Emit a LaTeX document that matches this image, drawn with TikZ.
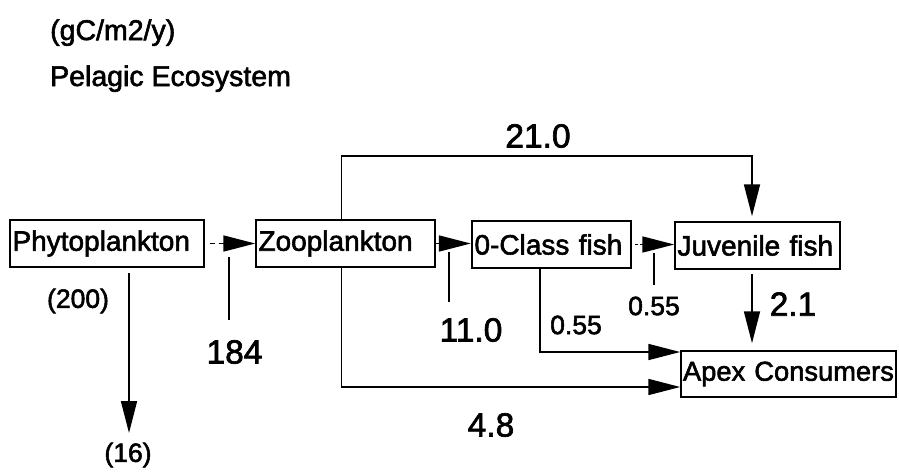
\documentclass[tikz,border=0pt]{standalone}
\usepackage{fontspec}
\setmainfont{Liberation Sans}[RawFeature={embolden=2}]
\usetikzlibrary{arrows.meta}
\begin{document}
\begin{tikzpicture}[x=1pt,y=-1pt,
  box/.style={draw, line width=1.5pt, inner xsep=2.5pt, inner ysep=0pt, minimum height=47pt, align=left, font=\fontsize{28}{30}\selectfont},
  flow/.style={line width=1.7pt, -{Triangle[length=32pt,width=16pt]}},
  plain/.style={line width=1.7pt},
  big/.style={font=\fontsize{33.5}{36}\selectfont, inner sep=0pt},
  small/.style={font=\fontsize{26.5}{30}\selectfont, inner sep=0pt},
  head/.style={font=\fontsize{28.5}{30}\selectfont, inner sep=0pt, anchor=base west}]
\useasboundingbox (0,0) rectangle (899,471);
\fill[white] (0,0) rectangle (899,471);

% header
\node[head] (unit) at (50,40) {(gC/m2/y)};
\node[head] (title) at (50,86) {Pelagic Ecosystem};

% boxes
\node[box, text width=189pt] (phyto) at (107,243.5) {Phytoplankton};
\node[box, text width=174pt] (zoo) at (345.5,243.5) {Zooplankton};
\node[box, text width=154pt, line width=2.4pt] (cls) at (551.5,244.5) {0-Class fish};
\node[box, text width=211pt, inner xsep=2pt, minimum height=46pt, font=\fontsize{27.3}{30}\selectfont] (apex) at (788.5,374) {Apex Consumers};
\node[box, text width=160pt] (juv) at (757.5,245.5) {Juvenile fish};

% labels
\node[big] (l184) at (234.5,352) {184};
\node[big] (l110) at (471,330) {11.0};
\node[big] (l210) at (538,136) {21.0};
\node[big] (l21) at (793,304) {2.1};
\node[big] (l48) at (491,425) {4.8};
\node[small] (l055a) at (654,306) {0.55};
\node[small] (l055b) at (576,325) {0.55};
\node[small] (l200) at (78,301) {(200)};
\node[small] (l16) at (128,455) {(16)};

% horizontal flows
\draw[plain] ([xshift=5pt]phyto.east) -- ([xshift=10pt]phyto.east);
\draw[flow] ([xshift=14pt]phyto.east) -- (phyto.east -| zoo.west);
\draw[flow] (zoo.east) -- (zoo.east -| cls.west);
\draw[plain] ([xshift=3pt]cls.east) -- ([xshift=5.5pt]cls.east);
\draw[flow] ([xshift=8pt]cls.east) -- (cls.east -| juv.west);

% Zooplankton -> Juvenile fish (over the top)
\draw[flow, shorten >=5pt] ([xshift=-4pt]zoo.north) -- ([xshift=-4pt]zoo.north |- 0,156) -| ([xshift=-5.5pt]juv.north);

% Zooplankton -> Apex (bottom)
\draw[flow] ([xshift=-4pt]zoo.south) |- ([yshift=-13pt]apex.west);

% 0-Class fish -> Apex
\draw[flow] ([xshift=-11.5pt]cls.south) |- ([yshift=22pt]apex.west);

% Juvenile -> Apex
\draw[flow, shorten <=4pt, shorten >=7pt] ([xshift=-5.5pt]juv.south) -- ([xshift=-5.5pt]juv.south |- apex.north);

% Phytoplankton export
\coordinate (pstart) at (129,273);
\coordinate (pend) at (129,433);
\draw[flow] (pstart) -- (pend);

% leader ticks
\coordinate (t184a) at (229,257); \coordinate (t184b) at (229,320);
\coordinate (t110a) at (449,252); \coordinate (t110b) at (449,302);
\coordinate (t055a) at (654,253); \coordinate (t055b) at (654,285);
\draw[plain] (t184a) -- (t184b);
\draw[plain] (t110a) -- (t110b);
\draw[plain] (t055a) -- (t055b);
\end{tikzpicture}
\end{document}
